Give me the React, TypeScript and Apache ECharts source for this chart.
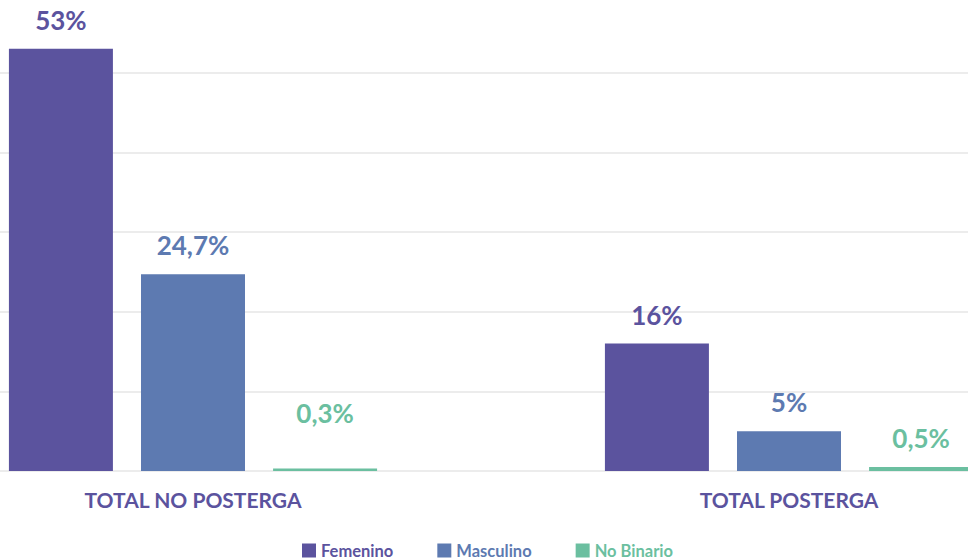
import React, { useEffect, useRef } from "react";
import * as echarts from "echarts";

const categories = ["TOTAL NO POSTERGA", "TOTAL POSTERGA"];
const seriesNames = ["Femenino", "Masculino", "No Binario"];
const femenino = [53, 16];
const masculino = [24.7, 5];
const noBinario = [0.3, 0.5];
const colors = ["#5B539E", "#5D7AB1", "#6BBFA0"];

const FONT = "Lato, 'Open Sans', sans-serif";

export default function App() {
  const ref = useRef<HTMLDivElement>(null);
  useEffect(() => {
    if (!ref.current) return;
    const chart = echarts.init(ref.current, null, { renderer: "svg" });
    const values = [femenino, masculino, noBinario];
    chart.setOption({
      animation: false,
      textStyle: { fontFamily: FONT },
      grid: { left: 0, right: 0, top: 0, bottom: 89, containLabel: false },
      xAxis: {
        type: "category",
        data: categories,
        axisLine: { show: false },
        axisTick: { show: false },
        axisLabel: {
          color: colors[0],
          fontSize: 21,
          fontWeight: "bold",
          fontFamily: FONT,
          margin: 18,
        },
      },
      yAxis: {
        type: "value",
        min: 0,
        max: 60,
        interval: 10,
        axisLabel: { show: false },
        axisLine: { show: false },
        axisTick: { show: false },
        splitLine: { lineStyle: { color: "#E6E6E6", width: 1.5 } },
      },
      legend: {
        top: 549,
        left: 407,
        padding: 0,
        icon: "rect",
        itemWidth: 14,
        itemHeight: 14,
        itemGap: 44,
        textStyle: { fontSize: 16.5, fontWeight: "bold", fontFamily: FONT },
        data: seriesNames.map((n, i) => ({ name: n, textStyle: { color: colors[i] } })),
      },
      series: seriesNames.map((name, i) => ({
        name,
        type: "bar",
        data: values[i].map((v, j) =>
          i === 2 && j === 0 ? { value: v, label: { distance: 43 } } : v
        ),
        barWidth: 104,
        barGap: "27%",
        itemStyle: { color: colors[i] },
        label: {
          show: true,
          position: "top",
          distance: 16,
          color: colors[i],
          fontSize: 26,
          fontWeight: "bold",
          fontFamily: FONT,
          formatter: (p: any) => String(p.value).replace(".", ",") + "%",
        },
      })),
    });
    return () => chart.dispose();
  }, []);
  return (
    <div
      style={{
        position: "fixed",
        left: 0,
        top: 0,
        width: 968,
        height: 560,
        overflow: "hidden",
        background: "#fff",
      }}
    >
      <div
        ref={ref}
        style={{ position: "absolute", left: -105, top: -7, width: 1192, height: 567 }}
      />
    </div>
  );
}
